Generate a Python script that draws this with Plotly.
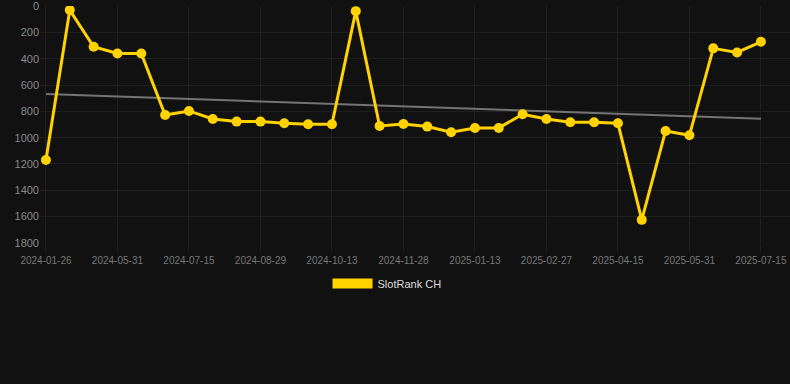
import plotly.graph_objects as go

dates = [
    "2024-01-26", "2024-03-11", "2024-04-25", "2024-05-31", "2024-06-15",
    "2024-06-30", "2024-07-15", "2024-07-30", "2024-08-14", "2024-08-29",
    "2024-09-13", "2024-09-28", "2024-10-13", "2024-10-28", "2024-11-12",
    "2024-11-28", "2024-12-13", "2024-12-28", "2025-01-13", "2025-01-28",
    "2025-02-12", "2025-02-27", "2025-03-14", "2025-03-30", "2025-04-15",
    "2025-04-30", "2025-05-15", "2025-05-31", "2025-06-15", "2025-06-30",
    "2025-07-15",
]
ranks = [
    1170, 30, 309, 360, 360, 828, 797, 858, 878, 878,
    891, 898, 898, 38, 911, 896, 916, 959, 926, 926,
    822, 858, 883, 883, 891, 1625, 949, 982, 321, 352,
    271,
]
trend_x = [dates[0], dates[-1]]
trend_y = [668, 856]
tick_labels = dates[::3]
y_ticks = [0, 200, 400, 600, 800, 1000, 1200, 1400, 1600, 1800]

series_name = "SlotRank CH"
gold = "#FFD200"
bg = "#111111"
grid = "#1f1f1f"

fig = go.Figure()
fig.add_trace(go.Scatter(
    x=trend_x, y=trend_y, mode="lines",
    line=dict(color="rgba(150,150,150,0.75)", width=2),
    showlegend=False, hoverinfo="skip",
))
fig.add_trace(go.Scatter(
    x=dates, y=ranks, mode="lines+markers",
    line=dict(color=gold, width=3),
    marker=dict(color=gold, size=10),
    showlegend=False, name=series_name,
))
# legend-only entry
fig.add_trace(go.Scatter(
    x=[None], y=[None], mode="lines",
    line=dict(color=gold, width=11),
    name=series_name, showlegend=True,
))

fig.update_layout(
    width=790, height=384,
    paper_bgcolor=bg, plot_bgcolor=bg,
    margin=dict(l=40, r=0, t=6, b=141, autoexpand=False),
    font=dict(family="Arial, Liberation Sans, sans-serif", color="#888888"),
    showlegend=True,
    legend=dict(
        orientation="h", x=0.4627, xanchor="center",
        y=-0.11, yanchor="top",
        font=dict(size=11, color="#dddddd"), itemwidth=40,
        bgcolor="rgba(0,0,0,0)",
    ),
    xaxis=dict(
        type="category", categoryorder="array", categoryarray=dates,
        range=[-0.25, 31.22],
        tickmode="array", tickvals=tick_labels, ticktext=tick_labels,
        tickfont=dict(size=10, color="#777777"), tickangle=0,
        showgrid=True, gridcolor=grid, gridwidth=1,
        zeroline=False, showline=False,
        ticks="outside", ticklen=8, tickcolor=grid,
        ticklabeloverflow="allow", automargin=False,
    ),
    yaxis=dict(
        range=[1801, -1],
        tickmode="array", tickvals=y_ticks,
        tickfont=dict(size=11, color="#888888"),
        showgrid=True, gridcolor=grid, gridwidth=1,
        zeroline=False, showline=False, ticks="",
        ticklabeloverflow="allow", automargin=False,
    ),
)

fig.write_html(
    "out.html",
    config={"displayModeBar": False},
    post_script="document.body.style.margin='0';document.body.style.background='#111111';",
)
